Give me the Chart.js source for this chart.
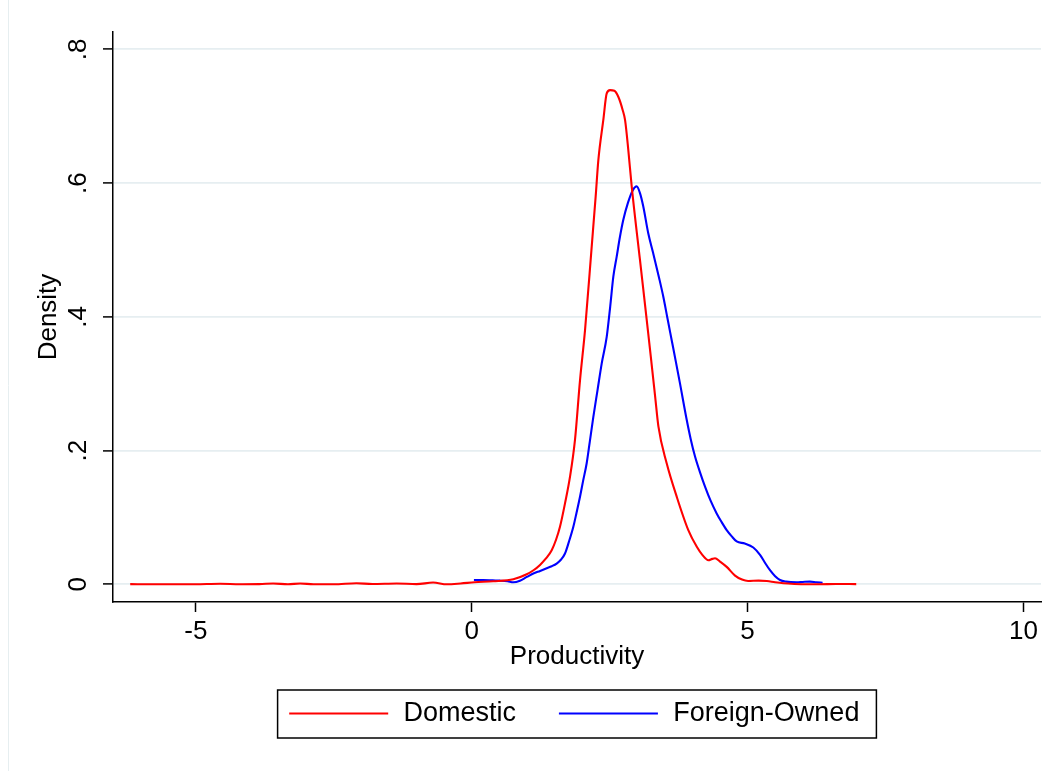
<!DOCTYPE html>
<html><head><meta charset="utf-8">
<script src="https://cdn.jsdelivr.net/npm/chart.js@4.4.1/dist/chart.umd.min.js"></script>
<style>html,body{margin:0;padding:0;background:#fff;}#wrap{width:1050px;height:771px;position:relative;}</style>
</head><body><div id="wrap"><canvas id="c" width="1050" height="771"></canvas></div>
<script>
// ---- data ----
const seriesNames = ['Domestic', 'Foreign-Owned'];
const domesticX = [-6.19,-5.8,-5.4,-5.0,-4.56,-4.2,-3.85,-3.6,-3.33,-3.11,-2.87,-2.5,-2.09,-1.8,-1.36,-1.0,-0.70,-0.45,-0.2,0.05,0.39,0.754,0.997,1.12,1.238,1.35,1.45,1.53,1.6,1.691,1.782,1.872,1.963,2.054,2.175,2.247,2.295,2.385,2.447,2.507,2.585,2.657,2.737,2.78,2.839,2.9,3.05,3.2,3.26,3.326,3.384,3.534,3.716,3.926,4.08,4.18,4.29,4.36,4.41,4.5,4.622,4.773,4.9,5.01,5.2,5.35,5.5,5.65,5.85,6.07,6.3,6.6,6.97];
const domesticY = [0.0002,0.0000,0.0000,0.0001,0.0008,0.0001,0.0002,0.0012,0.0000,0.0012,0.0001,0.0000,0.0016,0.0004,0.0012,0.0002,0.0026,0.0000,0.0012,0.0030,0.0045,0.0075,0.015,0.021,0.029,0.039,0.051,0.067,0.086,0.121,0.161,0.216,0.305,0.38,0.505,0.58,0.634,0.694,0.734,0.739,0.738,0.729,0.709,0.694,0.649,0.595,0.485,0.375,0.33,0.28,0.236,0.181,0.131,0.081,0.056,0.044,0.036,0.038,0.039,0.034,0.026,0.013,0.007,0.005,0.0055,0.005,0.003,0.0015,0.0005,0.0000,0.0000,0.0004,0.0003];
const foreignX = [0.04,0.21,0.38,0.513,0.65,0.754,0.875,1.0,1.117,1.24,1.359,1.45,1.54,1.62,1.691,1.76,1.842,1.9,1.963,2.02,2.084,2.14,2.204,2.28,2.356,2.447,2.51,2.567,2.628,2.688,2.748,2.83,2.918,2.99,3.05,3.11,3.2,3.29,3.4,3.473,3.55,3.625,3.7,3.776,3.897,3.97,4.048,4.14,4.229,4.33,4.44,4.53,4.622,4.71,4.803,4.95,5.104,5.226,5.31,5.407,5.5,5.588,5.7,5.89,6.0,6.13,6.25,6.36];
const foreignY = [0.0064,0.0064,0.0058,0.0054,0.0045,0.003,0.0054,0.011,0.016,0.020,0.024,0.027,0.031,0.037,0.046,0.063,0.086,0.107,0.131,0.155,0.181,0.213,0.25,0.29,0.33,0.37,0.415,0.46,0.49,0.52,0.545,0.57,0.589,0.595,0.585,0.565,0.525,0.495,0.457,0.43,0.397,0.365,0.333,0.30,0.246,0.217,0.191,0.167,0.146,0.125,0.106,0.093,0.081,0.072,0.064,0.061,0.055,0.044,0.033,0.021,0.012,0.0064,0.004,0.003,0.0035,0.004,0.003,0.0024];
const xTickValues = [-5, 0, 5, 10];
const xTickLabels = ['-5', '0', '5', '10'];
const yTickValues = [0, 0.2, 0.4, 0.6, 0.8];
const yTickLabels = ['0', '.2', '.4', '.6', '.8'];
const xTitle = 'Productivity';
const yTitle = 'Density';
const xRange = [-6.502, 10.319];
const yRange = [-0.0265, 0.8259];

// ---- styles ----
const FAMILY = '"Liberation Sans", Arial, sans-serif';
const colors = ['#ff0000', '#0000ff'];

const toPoints = (xs, ys) => xs.map((x, i) => ({x: x, y: ys[i]}));

const legendBox = {
  id: 'legendBox',
  afterDraw(chart) {
    const ctx = chart.ctx, ca = chart.chartArea;
    ctx.save();
    ctx.font = '27px ' + FAMILY;
    const padL = 11.6, lineLen = 99, gapLT = 15.4, gapItems = 42.8, padR = 17;
    const w0 = ctx.measureText(seriesNames[0]).width;
    const w1 = ctx.measureText(seriesNames[1]).width;
    const totalW = padL + lineLen + gapLT + w0 + gapItems + lineLen + gapLT + w1 + padR;
    const cx = (ca.left + ca.right) / 2;
    const left = cx - totalW / 2;
    const top = ca.bottom + 88, h = 48;
    const cy = top + h / 2;
    ctx.strokeStyle = '#000';
    ctx.lineWidth = 1.5;
    ctx.strokeRect(left, top, totalW, h);
    let x = left + padL;
    const widths = [w0, w1];
    for (let i = 0; i < 2; i++) {
      ctx.strokeStyle = colors[i];
      ctx.lineWidth = 2.1;
      ctx.beginPath();
      ctx.moveTo(x, cy - 0.5);
      ctx.lineTo(x + lineLen, cy - 0.5);
      ctx.stroke();
      x += lineLen + gapLT;
      ctx.fillStyle = '#000';
      ctx.textAlign = 'left';
      ctx.textBaseline = 'middle';
      ctx.fillText(seriesNames[i], x, cy);
      x += widths[i] + gapItems;
    }
    // faint outer frame line on the left
    ctx.strokeStyle = '#e6eef0';
    ctx.lineWidth = 1;
    ctx.beginPath();
    ctx.moveTo(8.5, 0);
    ctx.lineTo(8.5, chart.height);
    ctx.stroke();
    ctx.restore();
  }
};

new Chart(document.getElementById('c'), {
  type: 'line',
  data: {
    datasets: [
      {label: seriesNames[0], data: toPoints(domesticX, domesticY), borderColor: colors[0]},
      {label: seriesNames[1], data: toPoints(foreignX, foreignY), borderColor: colors[1]}
    ]
  },
  options: {
    responsive: false,
    animation: false,
    devicePixelRatio: 1,
    parsing: false,
    layout: {padding: {left: 0, right: 9, top: 32, bottom: 99}},
    elements: {
      point: {radius: 0},
      line: {borderWidth: 2.1, fill: false, cubicInterpolationMode: 'monotone'}
    },
    plugins: {legend: {display: false}, tooltip: {enabled: false}},
    scales: {
      x: {
        type: 'linear', min: xRange[0], max: xRange[1],
        afterBuildTicks: s => { s.ticks = xTickValues.map(v => ({value: v})); },
        afterFit: s => { s.height = 70; },
        ticks: {
          autoSkip: false, maxRotation: 0, color: '#000', padding: 4,
          font: {family: FAMILY, size: 26},
          callback: v => xTickLabels[xTickValues.indexOf(v)]
        },
        grid: {drawOnChartArea: false, drawTicks: true, tickLength: 10, tickColor: '#000', tickWidth: 1.5},
        border: {display: true, color: '#000', width: 1.5},
        title: {display: true, text: xTitle, color: '#000', font: {family: FAMILY, size: 26}, padding: {top: 0, bottom: 0}}
      },
      y: {
        type: 'linear', min: yRange[0], max: yRange[1],
        afterBuildTicks: s => { s.ticks = yTickValues.map(v => ({value: v})); },
        afterFit: s => { s.width = 113; },
        ticks: {
          autoSkip: false, minRotation: 90, maxRotation: 90, crossAlign: 'center', color: '#000', padding: 13,
          font: {family: FAMILY, size: 26},
          callback: v => yTickLabels[yTickValues.indexOf(v)]
        },
        grid: {color: '#e6eef1', lineWidth: 1.8, drawTicks: true, tickLength: 10, tickColor: '#000', tickWidth: 1.5},
        border: {display: true, color: '#000', width: 1.5},
        title: {display: true, text: yTitle, color: '#000', font: {family: FAMILY, size: 26}, padding: {top: 33, bottom: 0}}
      }
    }
  },
  plugins: [legendBox]
});
</script>
</body></html>
